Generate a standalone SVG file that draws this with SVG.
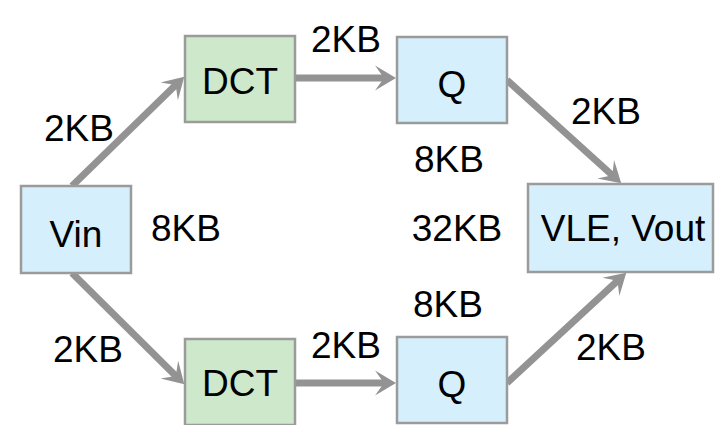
<svg xmlns="http://www.w3.org/2000/svg" width="715" height="425" viewBox="0 0 715 425">
  <style>
    .box { stroke: #9b9b9b; stroke-width: 2.5; }
    .blue { fill: #d5effc; }
    .green { fill: #cde8ca; }
    .edge { stroke: #939393; stroke-width: 7; fill: none; }
    text { font-family: "Liberation Sans", Arial, sans-serif; font-size: 37px; fill: #000; text-anchor: middle; }
  </style>
  <defs>
    <marker id="arrow" markerUnits="userSpaceOnUse" markerWidth="30" markerHeight="30" refX="0" refY="0" viewBox="-15 -15 30 30" orient="auto" overflow="visible">
      <path d="M8,0 L-13,-12.5 L-4,0 L-13,12.5 Z" fill="#939393"/>
    </marker>
  </defs>

  <g id="connectors">
    <line class="edge" x1="72" y1="186" x2="178.5" y2="82.3" marker-end="url(#arrow)"/>
    <line class="edge" x1="295" y1="78" x2="388" y2="78" marker-end="url(#arrow)"/>
    <line class="edge" x1="507" y1="80" x2="615.3" y2="178" marker-end="url(#arrow)"/>
    <line class="edge" x1="72" y1="273" x2="178.6" y2="378.7" marker-end="url(#arrow)"/>
    <line class="edge" x1="295" y1="383" x2="388" y2="383" marker-end="url(#arrow)"/>
    <line class="edge" x1="507" y1="383" x2="620.4" y2="278.1" marker-end="url(#arrow)"/>
  </g>

  <g id="vin">
    <rect class="box blue" x="21" y="186" width="110" height="87"/>
    <text x="76" y="247">Vin</text>
  </g>
  <g id="dct-top">
    <rect class="box green" x="185" y="36" width="110" height="86"/>
    <text x="240" y="94">DCT</text>
  </g>
  <g id="q-top">
    <rect class="box blue" x="397" y="37" width="110" height="86"/>
    <text x="452" y="97">Q</text>
  </g>
  <g id="dct-bottom">
    <rect class="box green" x="185" y="339" width="110" height="86"/>
    <text x="240" y="396">DCT</text>
  </g>
  <g id="q-bottom">
    <rect class="box blue" x="397" y="337" width="110" height="86"/>
    <text x="452" y="397">Q</text>
  </g>
  <g id="vle-vout">
    <rect class="box blue" x="528" y="184" width="185" height="88"/>
    <text x="623" y="241">VLE, Vout</text>
  </g>

  <g id="labels">
    <text x="79" y="141">2KB</text>
    <text x="346" y="52">2KB</text>
    <text x="606" y="124">2KB</text>
    <text x="449" y="172">8KB</text>
    <text x="186" y="241">8KB</text>
    <text x="457" y="241">32KB</text>
    <text x="448" y="317">8KB</text>
    <text x="88" y="362">2KB</text>
    <text x="346" y="358">2KB</text>
    <text x="611" y="360">2KB</text>
  </g>
</svg>
